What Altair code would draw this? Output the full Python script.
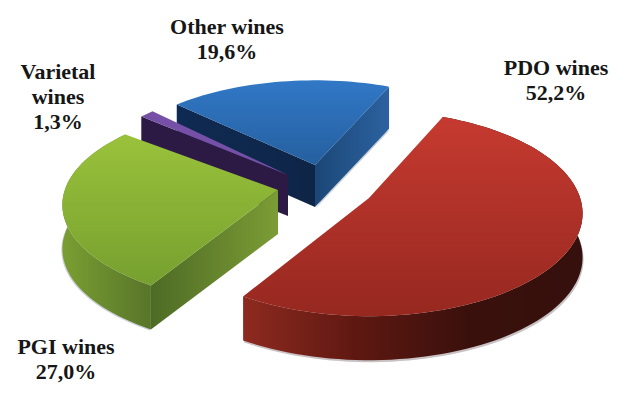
import math
import altair as alt

names = ["PDO wines", "PGI wines", "Varietal\nwines", "Other wines"]
shares = [52.2, 27.0, 1.3, 19.6]

START = 23.4
R0, TILT, PERSP, DEPTH = 205.0, 0.5, 0.15, 44.0
apex = [(361, 190), (270, 182), (280, 167), (307, 157)]
stretch = [(1.03, 0.98), (1.04, 0.95), (1.0, 1.0), (1.02, 0.95)]


def proj(i, deg):
    c, (sx, sy) = apex[i], stretch[i]
    t = math.radians(deg)
    w = 1 + PERSP * math.cos(t)
    return (c[0] + sx * R0 * math.sin(t) / w, c[1] - sy * R0 * TILT * math.cos(t) / w)


def arc(i, a, b):
    n = max(2, int(abs(b - a) / 2))
    return [proj(i, a + (b - a) * k / n) for k in range(n + 1)]


def down(pts, d=DEPTH, dx=0):
    return [(x + dx, y + d) for x, y in reversed(pts)]


def layer(pts, fill):
    ring = [list(p) for p in pts] + [list(pts[0])]
    feat = {"type": "Feature", "properties": {}, "geometry": {"type": "Polygon", "coordinates": [ring]}}
    return (
        alt.Chart(alt.Data(values=[feat]))
        .mark_geoshape(fill=fill, stroke=None, strokeWidth=0)
        .project(type="identity", scale=1, translate=[0, 0])
    )


def grad(stops, vertical=True):
    n = len(stops) - 1
    return alt.Gradient(
        gradient="linear",
        x1=0, y1=0,
        x2=0 if vertical else 1, y2=1 if vertical else 0,
        stops=[alt.GradientStop(color=col, offset=k / n) for k, col in enumerate(stops)],
    )


edges = [START]
for s in shares:
    edges.append(edges[-1] + s * 3.6)

layers = []
SHADOW = "#c9ced8"

# Other wines
i = 3
c = apex[i]
a, b = edges[3], edges[4]
p_a, p_b = proj(i, a), proj(i, b)
layers.append(layer(down([c, p_b], 43, 1) + [p_b, c], SHADOW))
layers.append(layer([c, p_a] + down([c, p_a], 42), grad(["#0f2a52", "#0e2547"], False)))
layers.append(layer([c, p_b] + down([c, p_b], 42), grad(["#1b4777", "#2c62a0"], False)))
layers.append(layer([c] + arc(i, a, b), grad(["#3178c6", "#255f9f"])))

# Varietal wines
i = 2
c = apex[i]
a, b = edges[2], edges[3]
p_a = proj(i, a)
layers.append(layer([c, p_a] + down([c, p_a], 41), "#2c1a45"))
layers.append(layer([c] + arc(i, a, b), "#7650a6"))

# PGI wines
i = 1
c = apex[i]
a, b = edges[1], edges[2]
p_a = proj(i, a)
outer = arc(i, a, b)
layers.append(layer(outer + down(outer, 45, -1) , SHADOW))
layers.append(layer(outer + down(outer), grad(["#7a9e32", "#587529"], False)))
layers.append(layer([c, p_a] + down([c, p_a]), grad(["#4e6b25", "#7b9c35"], False)))
layers.append(layer([c] + outer, grad(["#9ac23b", "#76a02f"])))

# PDO wines
i = 0
c = apex[i]
a, b = edges[0], edges[1]
outer = arc(i, a, b)
layers.append(layer(outer + down(outer, 46, 1), "#c8c2c4"))
layers.append(layer(outer + down(outer), grad(["#8e2a20", "#5e1811", "#3a100c", "#35100c"], False)))
layers.append(layer([c] + outer, grad(["#c63a30", "#962820"])))

label_text = [f"{n}\n{s:.1f}%".replace(".", ",") for n, s in zip(names, shares)]
label_x = [556, 66, 58, 227]
label_y = [68, 347, 72, 27]

for t, lx, ly in zip(label_text, label_x, label_y):
    layers.append(
        alt.Chart(alt.Data(values=[{"t": t}]))
        .mark_text(
            font="Liberation Serif", fontWeight="bold", fontSize=22, lineBreak="\n",
            lineHeight=25, color="#161616", align="center", baseline="middle",
        )
        .encode(text="t:N", x=alt.value(lx - 8), y=alt.value(ly - 8))
    )

chart = (
    alt.layer(*layers)
    .properties(width=624, height=396, padding=0, background="white")
    .configure_view(stroke=None)
)
chart.save("out.html", embed_options={"renderer": "svg", "actions": False})
